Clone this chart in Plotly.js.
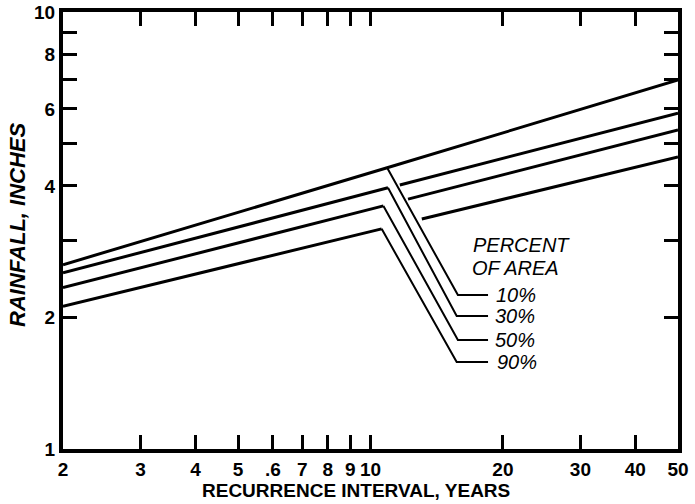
<!DOCTYPE html>
<html>
<head>
<meta charset="utf-8">
<script src="https://cdn.plot.ly/plotly-3.0.1.min.js"></script>
<style>html,body{margin:0;padding:0;background:#fff;}#chart{width:695px;height:504px;}</style>
</head>
<body>
<div id="chart"></div>
<script>
// Recurrence interval (years) ticks
const xTickVals = [2, 3, 4, 5, 6, 7, 8, 9, 10, 20, 30, 40, 50];
const xTickText = ['2', '3', '4', '5', '.6', '7', '8', '9', '10', '20', '30', '40', '50'];
const yTickVals = [1, 2, 3, 4, 5, 6, 7, 8, 9, 10];
const yTickText = ['1', '2', '', '4', '', '6', '', '8', '', '10'];

// Rainfall curves (inches) for percent of area (null = break for leader)
const p10x = [2, 10.91, 50];
const p10y = [2.64, 4.40, 6.99];
const p30x = [2, 10.96, null, 11.66, 50];
const p30y = [2.53, 3.96, null, 4.02, 5.87];
const p50x = [2, 10.7, null, 12.17, 50];
const p50y = [2.34, 3.60, null, 3.73, 5.37];
const p90x = [2, 10.6, null, 13.08, 50];
const p90y = [2.12, 3.19, null, 3.36, 4.66];

// Leader lines from curve ends to labels
const lead10x = [10.91, 15.8, 18.5];
const lead10y = [4.40, 2.25, 2.25];
const lead30x = [10.96, 15.7, 18.5];
const lead30y = [3.96, 2.015, 2.015];
const lead50x = [10.7, 15.8, 18.5];
const lead50y = [3.60, 1.776, 1.776];
const lead90x = [10.6, 15.7, 18.5];
const lead90y = [3.19, 1.581, 1.581];

const seriesLabels = ['10%', '30%', '50%', '90%'];
const legendTitle = ['PERCENT', 'OF AREA'];

const curveStyle = {color: '#000', width: 3};
const leadStyle = {color: '#000', width: 2};

const traces = [
  {x: p10x, y: p10y, mode: 'lines', line: curveStyle, connectgaps: false},
  {x: p30x, y: p30y, mode: 'lines', line: curveStyle, connectgaps: false},
  {x: p50x, y: p50y, mode: 'lines', line: curveStyle, connectgaps: false},
  {x: p90x, y: p90y, mode: 'lines', line: curveStyle, connectgaps: false},
  {x: lead10x, y: lead10y, mode: 'lines', line: leadStyle},
  {x: lead30x, y: lead30y, mode: 'lines', line: leadStyle},
  {x: lead50x, y: lead50y, mode: 'lines', line: leadStyle},
  {x: lead90x, y: lead90y, mode: 'lines', line: leadStyle}
];

const tickFont = {family: 'Liberation Sans, Arial, sans-serif', size: 19, color: '#000', weight: 'bold'};
const labelFont = {family: 'Liberation Sans, Arial, sans-serif', size: 20, color: '#000', style: 'italic'};

const labelY = [0.352, 0.304, 0.249, 0.199];
const labelX = [0.701, 0.699, 0.699, 0.702];

const annotations = [
  {text: 'RECURRENCE INTERVAL, YEARS', xref: 'paper', yref: 'paper', x: 0.476, y: -0.096,
   xanchor: 'center', yanchor: 'middle', showarrow: false,
   font: {family: 'Liberation Sans, Arial, sans-serif', size: 19, color: '#000', weight: 'bold'}},
  {text: 'RAINFALL, INCHES', xref: 'paper', yref: 'paper', x: -0.073, y: 0.513,
   xanchor: 'center', yanchor: 'middle', showarrow: false, textangle: -90,
   font: {family: 'Liberation Sans, Arial, sans-serif', size: 22, color: '#000', weight: 'bold', style: 'italic'}},
  {text: legendTitle[0], xref: 'paper', yref: 'paper', x: 0.663, y: 0.467,
   xanchor: 'left', yanchor: 'middle', showarrow: false, font: labelFont},
  {text: legendTitle[1], xref: 'paper', yref: 'paper', x: 0.662, y: 0.414,
   xanchor: 'left', yanchor: 'middle', showarrow: false, font: labelFont}
];
seriesLabels.forEach((t, i) => {
  annotations.push({text: t, xref: 'paper', yref: 'paper', x: labelX[i], y: labelY[i],
    xanchor: 'left', yanchor: 'middle', showarrow: false, font: labelFont});
});

const layout = {
  width: 695, height: 504,
  margin: {l: 63, r: 17, t: 12, b: 55, pad: 0},
  paper_bgcolor: '#fff', plot_bgcolor: '#fff',
  showlegend: false,
  hovermode: false,
  xaxis: {
    type: 'log', range: [Math.log10(2), Math.log10(50)],
    tickvals: xTickVals, ticktext: xTickText,
    ticks: 'inside', ticklen: 14, tickwidth: 3, tickcolor: '#000',
    showline: true, linewidth: 4, linecolor: '#000', mirror: 'ticks',
    showgrid: false, zeroline: false, tickfont: tickFont
  },
  yaxis: {
    type: 'log', range: [0, 1],
    tickvals: yTickVals, ticktext: yTickText,
    ticks: 'inside', ticklen: 14, tickwidth: 3, tickcolor: '#000',
    showline: true, linewidth: 4, linecolor: '#000', mirror: 'ticks',
    showgrid: false, zeroline: false, tickfont: tickFont
  },
  annotations: annotations
};

Plotly.newPlot('chart', traces, layout, {staticPlot: true, displayModeBar: false});
</script>
</body>
</html>
